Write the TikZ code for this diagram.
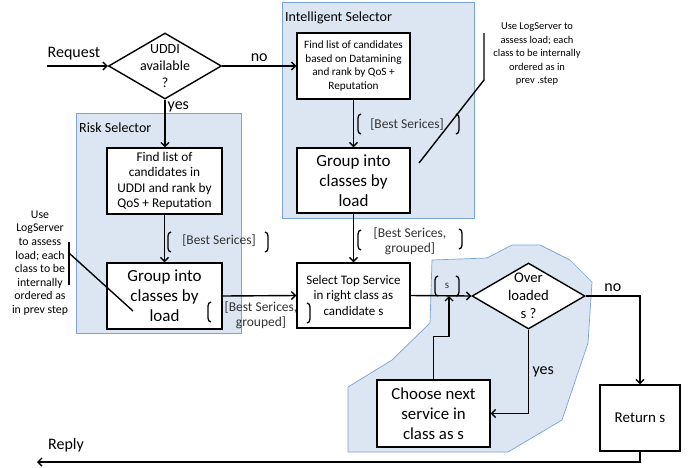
\documentclass[tikz,border=0pt]{standalone}
\usepackage{fontspec}
\setmainfont{Carlito}
\usetikzlibrary{shapes.geometric,arrows.meta}

\definecolor{panelfill}{HTML}{DCE6F2}
\definecolor{panelline}{HTML}{7BA3D4}

\tikzset{
  lbrk/.pic={\draw[line width=1.3pt] (3pt,10pt) to[out=180,in=90] (0,6pt) -- (0,-6pt) to[out=-90,in=180] (3pt,-10pt);},
  rbrk/.pic={\draw[line width=1.3pt] (-3pt,10pt) to[out=0,in=90] (0,6pt) -- (0,-6pt) to[out=-90,in=0] (-3pt,-10pt);}
}

\begin{document}
\begin{tikzpicture}[x=1pt, y=-1pt,
  box/.style={draw, line width=1.4pt, fill=white, align=center, inner sep=2pt},
  dia/.style={diamond, draw, line width=1.4pt, fill=white, inner sep=0pt, minimum width=113pt, minimum height=66pt},
  panel/.style={draw=panelline, fill=panelfill, line width=0.7pt},
  flow/.style={line width=1.4pt, -{Straight Barb[length=4pt,width=8pt]}},
  plain/.style={line width=1.4pt},
  lbl/.style={font=\fontsize{16}{19}\selectfont},
  title/.style={font=\fontsize{14}{17}\selectfont},
  brk/.style={font=\fontsize{13.5}{15}\selectfont, text=black!80, align=center},
  note/.style={font=\fontsize{10.5}{13.5}\selectfont, align=center}]

	\useasboundingbox (0,0) rectangle (688,467);

	% selector panels and the loop zone
	\node (ipanel) [panel, minimum width=192pt, minimum height=216pt,
	  label={[anchor=north west, title, yshift=-7pt]north west:Intelligent Selector}] at (378,110) {};
	\node (rpanel) [panel, minimum width=165pt, minimum height=220pt,
	  label={[anchor=north west, title, yshift=-7pt]north west:Risk Selector}] at (158.5,223) {};
	\draw[panel] (348,387) -- (348,452) -- (508,452) -- (562,420) -- (588,343) -- (592,282)
	  -- (570,260) -- (540,245) -- (512,245) -- (487,258) -- (432,260) -- (430,323) -- (392,360) -- cycle;

	% flow nodes
	\node (uddi) [dia, label={[align=center, font=\fontsize{14}{17}\selectfont]center:UDDI\\available\\?}] at (165,66) {};
	\node (ifind) [box, minimum width=113pt, minimum height=66pt, font=\fontsize{11.2}{13.5}\selectfont] at (353.5,66)
	  {Find list of candidates\\based on Datamining\\and rank by QoS +\\Reputation};
	\node (igroup) [box, minimum width=113pt, minimum height=65pt, font=\fontsize{17}{20}\selectfont] at (353.5,180.5)
	  {Group into\\classes by\\load};
	\node (rfind) [box, minimum width=115pt, minimum height=66pt, font=\fontsize{13.3}{15.2}\selectfont] at (164.5,181)
	  {Find list of\\candidates in\\UDDI and rank by\\QoS + Reputation};
	\node (rgroup) [box, minimum width=115pt, minimum height=66pt, font=\fontsize{17}{20}\selectfont] at (164.5,296)
	  {Group into\\classes by\\load};
	\node (select) [box, minimum width=113pt, minimum height=65pt, font=\fontsize{13}{15.5}\selectfont] at (353.5,295.5)
	  {Select Top Service\\in right class as\\candidate s};
	\node (over) [dia, label={[align=center, font=\fontsize{14.7}{18}\selectfont]center:Over\\loaded\\s ?}] at (528.5,296) {};
	\node (choose) [box, minimum width=113pt, minimum height=67pt, font=\fontsize{16.8}{20}\selectfont] at (433.5,413.5)
	  {Choose next\\service in\\class as s};
	\node (ret) [box, minimum width=80pt, minimum height=66pt, font=\fontsize{15}{18}\selectfont] at (640,418) {Return s};

	% free ends
	\node (reqtxt) [lbl] at (74,54) {Request};
	\node (reptxt) [lbl] at (66,445) {Reply};
	\coordinate (reqin) at (47,66);
	\coordinate (repout) at (37,462);
	\coordinate (sin) at (449,296);

	% connectors
	\draw[flow] (reqin) -- (uddi.west);
	\draw[flow] (uddi.east) -- node[lbl, above] {no} (ifind.west);
	\draw[flow] (uddi.south) -- node[lbl, right, pos=0.15, inner sep=2pt] {yes} (uddi.south |- rfind.north);
	\draw[flow] (rfind) -- (rgroup);
	\draw[flow] (ifind) -- (igroup);
	\draw[flow] (igroup) -- (select);
	\draw[flow] (rgroup.east) -- (select.west);
	\draw[flow] (select.east) -- (over.west);
	\draw[flow] (over.south) |- node[lbl, right, pos=0.25] {yes} (choose.east);
	\draw[flow] (choose.north) -- ++(0,-43) -| (sin);
	\draw[flow] (over.east) -| node[lbl, above, pos=0.25] {no} (ret.north);
	\draw[flow] (ret.south) |- (repout);

	% bracketed labels
	\node (bs1) [brk] at (219,241) {[Best Serices]};
	\pic at (168,242) {lbrk}; \pic at (268,242) {rbrk};
	\node (bs2) [brk] at (407,125) {[Best Serices]};
	\pic at (358,124) {lbrk}; \pic at (459,124) {rbrk};
	\node (bs3) [brk] at (410,241) {[Best Serices,\\grouped]};
	\pic at (358,240) {lbrk}; \pic at (462,239) {rbrk};
	\node (bs4) [brk] at (261,315) {[Best Serices,\\grouped]};
	\pic at (208,312) {lbrk}; \pic at (310,313) {rbrk};
	\node (sl) [brk, font=\fontsize{11}{13}\selectfont] at (447,286) {s};
	\pic at (435,286) {lbrk}; \pic at (459,286) {rbrk};

	% LogServer notes
	\node (inote) [note] at (537,54) {Use LogServer to\\assess load; each\\class to be internally\\ordered as in\\prev .step};
	\coordinate (ibar) at (484,33);
	\coordinate (itip) at (419,163);
	\draw[plain] (ibar) -- (484,80) -- (itip);
	\node (rnote) [note, font=\fontsize{11.8}{13.6}\selectfont] at (40,263) {Use\\LogServer\\to assess\\load; each\\class to be\\internally\\ordered as\\in prev step};
	\coordinate (rbar) at (69,242);
	\coordinate (rtip) at (133,311);
	\draw[plain] (rbar) -- (69,285);
	\draw[plain] (69,253) -- (rtip);

\end{tikzpicture}
\end{document}
